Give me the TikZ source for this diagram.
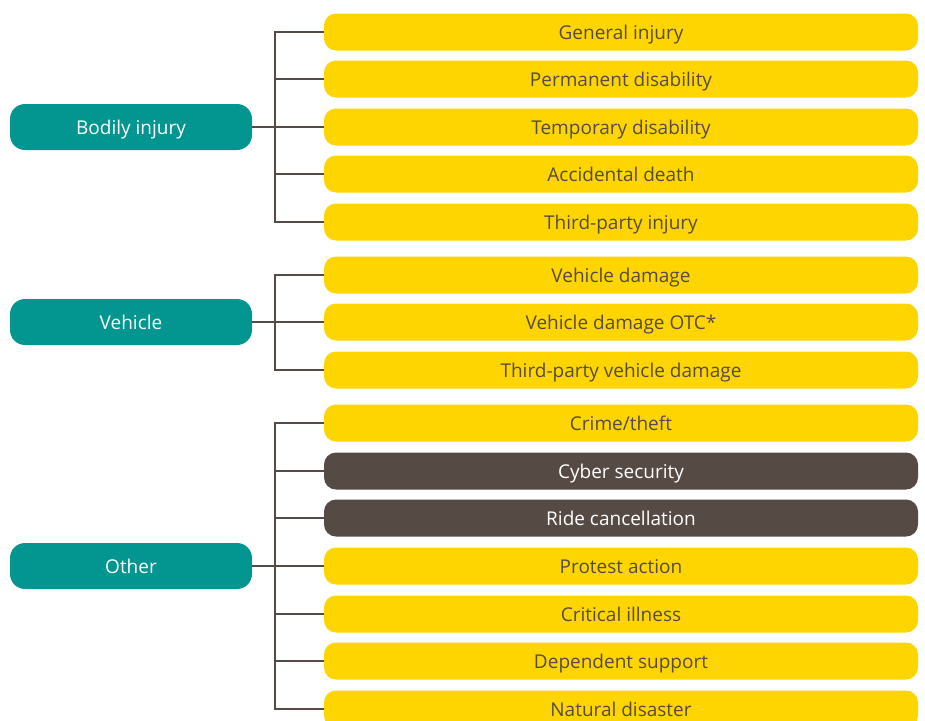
\documentclass[tikz,border=0pt]{standalone}
\usepackage{fontspec}
\setmainfont{Open Sans}
\definecolor{groupteal}{HTML}{03958F}
\definecolor{itemyellow}{HTML}{FFD500}
\definecolor{linebrown}{HTML}{564A45}
\begin{document}
\begin{tikzpicture}[x=1pt,y=-1pt,
    group/.style = {rounded corners=15pt,
        fill=groupteal, text=white,
        minimum width=242pt, minimum height=46pt,
        text height=14pt, text depth=0pt,
        font=\fontsize{19}{22}\selectfont},
    item/.style = {rounded corners=12pt,
        fill=itemyellow, text=linebrown,
        minimum width=594pt, minimum height=37pt,
        text height=14pt, text depth=0pt,
        font=\fontsize{19}{22}\selectfont},
    darkitem/.style = {item, fill=linebrown, text=white},
    branch/.style = {draw=linebrown, line width=2pt}]

\useasboundingbox (0,0) rectangle (925,720);

% Bodily injury
\node[group] (bi) at (131,127) {Bodily injury};
\node[item] (bi1) at (621,32) {General injury};
\node[item] (bi2) at (621,79) {Permanent disability};
\node[item] (bi3) at (621,127) {Temporary disability};
\node[item] (bi4) at (621,174) {Accidental death};
\node[item] (bi5) at (621,222) {Third-party injury};

% Vehicle
\node[group] (ve) at (131,322) {Vehicle};
\node[item] (ve1) at (621,275) {Vehicle damage};
\node[item] (ve2) at (621,322) {Vehicle damage OTC*};
\node[item] (ve3) at (621,370) {Third-party vehicle damage};

% Other
\node[group] (ot) at (131,566) {Other};
\node[item] (ot1) at (621,423) {Crime/theft};
\node[darkitem] (ot2) at (621,471) {Cyber security};
\node[darkitem] (ot3) at (621,518) {Ride cancellation};
\node[item] (ot4) at (621,566) {Protest action};
\node[item] (ot5) at (621,614) {Critical illness};
\node[item] (ot6) at (621,661) {Dependent support};
\node[item] (ot7) at (621,709) {Natural disaster};

% Trunks
\coordinate (tb) at (275,32);
\coordinate (tv) at (275,275);
\coordinate (to) at (275,423);
\draw[branch] (bi1.west) -- (tb) |- (bi5.west);
\draw[branch] (ve1.west) -- (tv) |- (ve3.west);
\draw[branch] (ot1.west) -- (to) |- (ot7.west);

% Branches
\draw[branch] (bi.east) -- (bi3.west);
\draw[branch] (bi2.west) -- (bi2.west -| tb);
\draw[branch] (bi4.west) -- (bi4.west -| tb);
\draw[branch] (ve.east) -- (ve2.west);
\draw[branch] (ot.east) -- (ot4.west);
\draw[branch] (ot2.west) -- (ot2.west -| to);
\draw[branch] (ot3.west) -- (ot3.west -| to);
\draw[branch] (ot5.west) -- (ot5.west -| to);
\draw[branch] (ot6.west) -- (ot6.west -| to);

\end{tikzpicture}
\end{document}
